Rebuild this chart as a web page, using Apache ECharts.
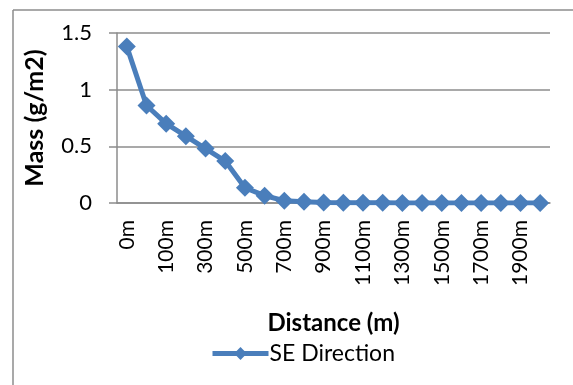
<!DOCTYPE html>
<html><head><meta charset="utf-8">
<script src="https://cdn.jsdelivr.net/npm/echarts@6/dist/echarts.min.js"></script>
<style>html,body{margin:0;padding:0;background:#fff}#c{width:573px;height:385px}</style>
</head><body><div id="c"></div>
<script>
var categories = ['0m','50m','100m','200m','300m','400m','500m','600m','700m','800m','900m','1000m','1100m','1200m','1300m','1400m','1500m','1600m','1700m','1800m','1900m','2000m'];
var seValues = [1.38,0.86,0.70,0.59,0.48,0.37,0.135,0.065,0.02,0.01,0.005,0.003,0.002,0.002,0.001,0.001,0.001,0,0,0,0,0];
var yTicks = [0,0.5,1,1.5];
var seriesName = 'SE Direction';

var chart = echarts.init(document.getElementById('c'), null, {renderer:'canvas'});
var font = 'Lato, "Open Sans", sans-serif';
chart.setOption({
  animation:false,
  textStyle:{fontFamily:font},
  grid:{left:117,right:23,top:33,bottom:182,containLabel:false},
  graphic:[
    {type:'line',shape:{x1:13,y1:10,x2:573,y2:10},style:{stroke:'#8c8c8c',lineWidth:1.5}},
    {type:'line',shape:{x1:13,y1:10,x2:13,y2:385},style:{stroke:'#8c8c8c',lineWidth:1.5}}
  ],
  xAxis:{
    type:'category',data:categories,boundaryGap:true,
    axisLine:{lineStyle:{color:'#8c8c8c',width:1.5}},
    axisTick:{show:false},
    axisLabel:{interval:1,rotate:90,fontSize:21,color:'#000',margin:17,fontFamily:font},
    name:'Distance (m)',nameLocation:'middle',nameGap:108,
    nameTextStyle:{fontSize:24,fontWeight:'bold',color:'#000',fontFamily:font}
  },
  yAxis:{
    type:'value',min:0,max:1.5,interval:0.5,
    axisLine:{show:true,lineStyle:{color:'#8c8c8c',width:1.5}},
    axisTick:{show:true,length:8,lineStyle:{color:'#8c8c8c',width:1.5}},
    splitLine:{lineStyle:{color:'#8c8c8c',width:1.5}},
    axisLabel:{fontSize:22,color:'#000',margin:25,fontFamily:font,
      formatter:function(v){return yTicks.indexOf(v)>=0?String(v):'';}},
    name:'Mass (g/m2)',nameLocation:'middle',nameGap:70,
    nameTextStyle:{fontSize:25,fontWeight:'bold',color:'#000',fontFamily:font}
  },
  legend:{
    show:true,left:205,top:337,itemWidth:56,itemHeight:16,itemGap:2,
    lineStyle:{width:5,color:'#4a7ebb'},
    itemStyle:{color:'#4a7ebb'},
    textStyle:{fontSize:23,color:'#000',fontFamily:font,padding:[0,0,0,-4]},
    data:[seriesName]
  },
  series:[{
    name:seriesName,type:'line',data:seValues,
    lineStyle:{color:'#4a7ebb',width:5},
    itemStyle:{color:'#4a7ebb'},
    symbol:'diamond',symbolSize:18,showAllSymbol:true
  }]
});
</script></body></html>
